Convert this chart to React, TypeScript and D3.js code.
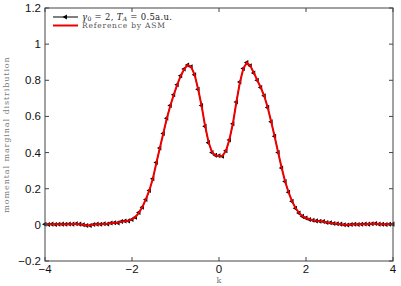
import React, { useEffect, useRef } from "react";
import * as d3 from "d3";

// momental marginal distribution, k grid from -4 to 4 in steps of 0.08
const kStart = -4;
const kStep = 0.08;

const simValues = [
  0.003, 0.002, 0.004, 0.002, 0.003, 0.004, 0.003, 0.005, 0.004, 0.006,
  0.004, 0.001, -0.004, -0.003, 0.002, 0.004, 0.003, 0.006, 0.005, 0.010,
  0.012, 0.011, 0.018, 0.021, 0.022, 0.030, 0.042, 0.068, 0.098, 0.140,
  0.190, 0.255, 0.345, 0.425, 0.505, 0.590, 0.660, 0.720, 0.775, 0.825,
  0.862, 0.885, 0.875, 0.830, 0.750, 0.660, 0.545, 0.455, 0.400, 0.385,
  0.382, 0.380, 0.410, 0.470, 0.560, 0.680, 0.790, 0.865, 0.898, 0.880,
  0.840, 0.800, 0.760, 0.715, 0.650, 0.570, 0.490, 0.400, 0.315, 0.240,
  0.180, 0.130, 0.092, 0.065, 0.047, 0.038, 0.030, 0.026, 0.022, 0.020,
  0.018, 0.013, 0.012, 0.008, 0.006, 0.004, 0.001, -0.001, 0.002, 0.003,
  0.002, 0.003, 0.005, 0.004, 0.006, 0.008, 0.004, 0.003, 0.002, 0.003,
  0.004,
];

const refValues = [
  0.003, 0.003, 0.003, 0.003, 0.003, 0.004, 0.004, 0.004, 0.005, 0.005,
  0.004, 0.001, -0.003, -0.002, 0.002, 0.004, 0.004, 0.005, 0.006, 0.009,
  0.011, 0.013, 0.017, 0.020, 0.023, 0.030, 0.044, 0.068, 0.100, 0.142,
  0.192, 0.257, 0.342, 0.425, 0.507, 0.588, 0.658, 0.720, 0.776, 0.824,
  0.862, 0.884, 0.874, 0.830, 0.752, 0.658, 0.548, 0.458, 0.402, 0.384,
  0.381, 0.382, 0.410, 0.472, 0.562, 0.680, 0.788, 0.865, 0.898, 0.880,
  0.842, 0.800, 0.760, 0.713, 0.650, 0.570, 0.488, 0.400, 0.316, 0.240,
  0.180, 0.130, 0.093, 0.066, 0.048, 0.038, 0.031, 0.026, 0.022, 0.020,
  0.017, 0.014, 0.011, 0.008, 0.006, 0.004, 0.001, 0.000, 0.002, 0.003,
  0.003, 0.003, 0.004, 0.005, 0.006, 0.006, 0.005, 0.003, 0.003, 0.003,
  0.004,
];

const xTicks = [-4, -2, 0, 2, 4];
const yTicks = [-0.2, 0, 0.2, 0.4, 0.6, 0.8, 1, 1.2];

const W = 401;
const H = 286;

export default function App() {
  const ref = useRef<SVGSVGElement>(null);

  useEffect(() => {
    const svg = d3.select(ref.current);
    svg.selectAll("*").remove();

    const left = 45, right = 393, top = 8, bottom = 261;
    const x = d3.scaleLinear().domain([-4, 4]).range([left, right]);
    const y = d3.scaleLinear().domain([-0.2, 1.2]).range([bottom, top]);

    const sim = simValues.map((v, i) => ({ k: kStart + i * kStep, v }));
    const refd = refValues.map((v, i) => ({ k: kStart + i * kStep, v }));

    svg.append("rect").attr("width", W).attr("height", H).attr("fill", "white");

    const line = d3.line<{ k: number; v: number }>().x(d => x(d.k)).y(d => y(d.v));

    // black simulated line with left-pointing triangle markers
    svg.append("path").datum(sim).attr("d", line)
      .attr("fill", "none").attr("stroke", "black").attr("stroke-width", 1);

    const tri = d3.symbol().type(d3.symbolTriangle).size(11);
    svg.append("g").selectAll("path").data(sim).enter().append("path")
      .attr("d", tri)
      .attr("transform", d => `translate(${x(d.k)},${y(d.v)}) rotate(-90)`)
      .attr("fill", "black");

    // red reference line
    svg.append("path").datum(refd).attr("d", line)
      .attr("fill", "none").attr("stroke", "#ee0000").attr("stroke-width", 2);

    // axes box
    const axColor = "#444";
    svg.append("rect")
      .attr("x", left).attr("y", top)
      .attr("width", right - left).attr("height", bottom - top)
      .attr("fill", "none").attr("stroke", axColor).attr("stroke-width", 1);

    const tl = 4;
    xTicks.forEach(t => {
      svg.append("line").attr("x1", x(t)).attr("x2", x(t)).attr("y1", bottom).attr("y2", bottom - tl).attr("stroke", axColor);
      svg.append("line").attr("x1", x(t)).attr("x2", x(t)).attr("y1", top).attr("y2", top + tl).attr("stroke", axColor);
      svg.append("text").attr("x", x(t)).attr("y", 273)
        .attr("text-anchor", "middle").attr("font-family", "Liberation Sans, Arial, sans-serif")
        .attr("font-size", 11.5).attr("fill", "#111")
        .text(t < 0 ? "\u2212" + Math.abs(t) : String(t));
    });
    yTicks.forEach(t => {
      svg.append("line").attr("x1", left).attr("x2", left + tl).attr("y1", y(t)).attr("y2", y(t)).attr("stroke", axColor);
      svg.append("line").attr("x1", right).attr("x2", right - tl).attr("y1", y(t)).attr("y2", y(t)).attr("stroke", axColor);
      const lab = t < 0 ? "\u2212" + Math.abs(t) : String(Math.round(t * 10) / 10);
      svg.append("text").attr("x", 41).attr("y", y(t) + 4)
        .attr("text-anchor", "end").attr("font-family", "Liberation Sans, Arial, sans-serif")
        .attr("font-size", 11.5).attr("fill", "#111")
        .text(lab);
    });

    // axis labels
    svg.append("text")
      .attr("transform", `translate(9,${(top + bottom) / 2}) rotate(-90)`)
      .attr("text-anchor", "middle").attr("font-family", "DejaVu Serif, serif")
      .attr("font-size", 8).attr("fill", "#777").attr("letter-spacing", 0.9)
      .text("momental marginal distribution");
    svg.append("text").attr("x", x(0)).attr("y", 283)
      .attr("text-anchor", "middle").attr("font-family", "DejaVu Serif, serif")
      .attr("font-size", 8).attr("fill", "#777").text("k");

    // legend
    const lg = svg.append("g");
    lg.append("line").attr("x1", 53).attr("x2", 78).attr("y1", 17).attr("y2", 17)
      .attr("stroke", "black").attr("stroke-width", 1);
    lg.append("path").attr("d", tri).attr("transform", "translate(65.5,17) rotate(-90)").attr("fill", "black");
    lg.append("line").attr("x1", 53).attr("x2", 78).attr("y1", 25.5).attr("y2", 25.5)
      .attr("stroke", "#ee0000").attr("stroke-width", 2);

    const t1 = lg.append("text").attr("x", 82).attr("y", 19.5)
      .attr("font-family", "DejaVu Serif, serif").attr("font-size", 8.5).attr("fill", "#222")
      .attr("letter-spacing", 0.3);
    t1.append("tspan").attr("font-style", "italic").text("\u03b3");
    t1.append("tspan").attr("font-size", 6).attr("dy", 1.5).text("0");
    t1.append("tspan").attr("dy", -1.5).text(" = 2, ");
    t1.append("tspan").attr("font-style", "italic").text("T");
    t1.append("tspan").attr("font-size", 6).attr("font-style", "italic").attr("dy", 1.5).text("A");
    t1.append("tspan").attr("dy", -1.5).text(" = 0.5a.u.");

    lg.append("text").attr("x", 82).attr("y", 28)
      .attr("font-family", "DejaVu Serif, serif").attr("font-size", 7.5).attr("fill", "#555")
      .attr("letter-spacing", 0.8)
      .text("Reference by ASM");
  }, []);

  return (
    <svg ref={ref} width={W} height={H}
      style={{ position: "absolute", left: 0, top: 0, display: "block" }} />
  );
}
